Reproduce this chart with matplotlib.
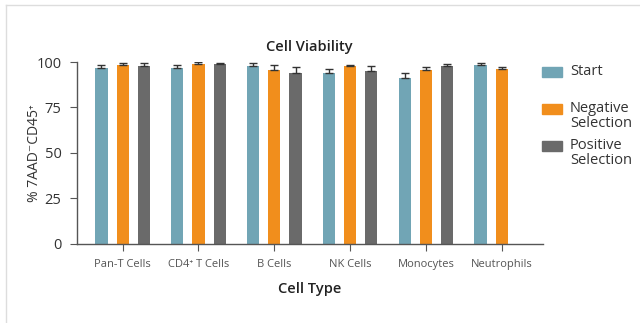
import numpy as np
import matplotlib
matplotlib.use("Agg")
import matplotlib.pyplot as plt
from matplotlib.lines import Line2D
from matplotlib.patches import Rectangle

plt.rcParams['font.family'] = ['Open Sans', 'DejaVu Sans']

cell_types = ["Pan-T Cells", "CD4⁺ T Cells", "B Cells", "NK Cells", "Monocytes", "Neutrophils"]
start = [96.7, 96.8, 97.6, 93.9, 91.2, 98.3]
start_err = [1.5, 1.3, 1.6, 2.5, 2.5, 0.9]
negative = [98.3, 99.0, 95.5, 97.6, 95.8, 96.1]
negative_err = [1.2, 0.8, 3.0, 0.8, 1.2, 1.3]
positive = [97.8, 99.0, 94.2, 94.8, 98.0, np.nan]
positive_err = [1.8, 0.5, 2.8, 3.0, 0.7, np.nan]
series_names = ["Start", "Negative\nSelection", "Positive\nSelection"]

c_start = "#71a5b5"
c_neg = "#f18e1c"
c_pos = "#6a6a6a"
axis_col = "#555555"
txt_col = "#333333"

fig = plt.figure(figsize=(6.4, 3.23), dpi=100)
ax = fig.add_axes([0.120, 0.2455, 0.728, 0.5625])

x = np.arange(len(cell_types))
w = 0.16
off = 0.28
ekw = dict(ecolor="#333333", elinewidth=1.0, capsize=3, capthick=1.0)
ax.bar(x - off, start, w, yerr=[np.zeros(6), start_err], color=c_start, error_kw=ekw, zorder=2)
ax.bar(x, negative, w, yerr=[np.zeros(6), negative_err], color=c_neg, error_kw=ekw, zorder=2)
ax.bar(x + off, positive, w, yerr=[np.zeros(6), positive_err], color=c_pos, error_kw=ekw, zorder=2)

ax.set_xlim(-0.605, 5.54)
ax.set_ylim(0, 100)
ax.set_yticks([0, 25, 50, 75, 100])
ax.set_xticks(x)
ax.set_xticklabels(cell_types, fontsize=8, color="#444444")
ax.tick_params(axis='y', labelsize=10.5, colors=axis_col, labelcolor=txt_col, length=5, pad=6)
ax.tick_params(axis='x', colors=axis_col, length=5, pad=6)

for s in ["top", "right"]:
    ax.spines[s].set_visible(False)
for s in ["left", "bottom"]:
    ax.spines[s].set_color(axis_col)
    ax.spines[s].set_linewidth(1.0)

ax.set_title("Cell Viability", fontsize=10.5, fontweight="semibold", color="#222222", pad=8)
ax.set_xlabel("Cell Type", fontsize=10.5, fontweight="semibold", color="#222222", labelpad=9)
ax.set_ylabel("% 7AAD⁻CD45⁺", fontsize=10, color=txt_col)
ax.yaxis.set_label_coords(-0.075, 0.5)

# legend drawn by hand so the swatch lines up with the first text line
leg_colors = [c_start, c_neg, c_pos]
leg_y = [71.7, 109, 145.7]  # pixel rows from top
for name, col, py in zip(series_names, leg_colors, leg_y):
    yf = 1 - py / 323
    fig.add_artist(Rectangle((542 / 640, yf - 5 / 323), 20 / 640, 10 / 323,
                             transform=fig.transFigure, color=col))
    fig.text(570 / 640, yf + 8 / 323, name, fontsize=10.5, color=txt_col,
             va="top", ha="left", linespacing=1.0)

# faint frame around the figure
fig.add_artist(Line2D([0.009, 0.009], [0.0, 0.985], color="#dddddd", lw=1))
fig.add_artist(Line2D([0.009, 1.0], [0.985, 0.985], color="#dddddd", lw=1))

fig.savefig("out.png", dpi=100, facecolor="white")
